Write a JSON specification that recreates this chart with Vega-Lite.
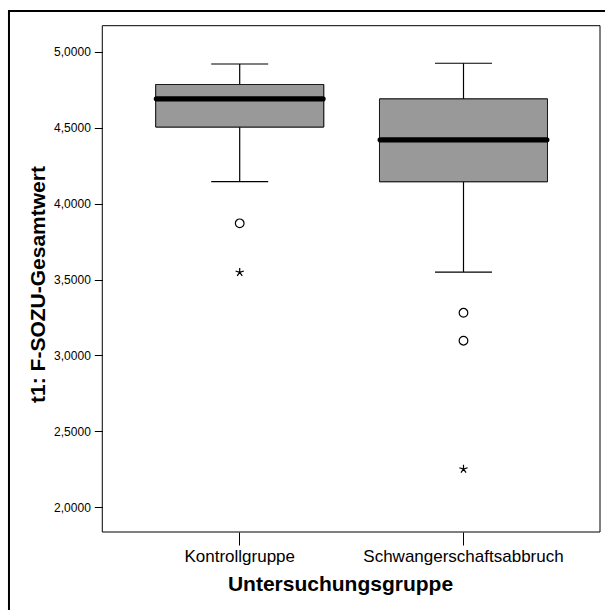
{
  "$schema": "https://vega.github.io/schema/vega-lite/v6.json",
  "autosize": {"type": "none"},
  "padding": {"left": 9, "top": 11, "right": 0, "bottom": 0},
  "width": 596,
  "height": 599,
  "background": "white",
  "config": {"font": "Liberation Sans", "view": {"stroke": null}},
  "datasets": {
    "summary": [
      {"group": "Kontrollgruppe", "lower": 4.144, "q1": 4.504, "median": 4.689, "q3": 4.784, "upper": 4.919},
      {"group": "Schwangerschaftsabbruch", "lower": 3.549, "q1": 4.144, "median": 4.419, "q3": 4.689, "upper": 4.924}
    ],
    "outliers": [
      {"group": "Kontrollgruppe", "value": 3.870, "kind": "Ausreißer"},
      {"group": "Kontrollgruppe", "value": 3.547, "kind": "Extremwert"},
      {"group": "Schwangerschaftsabbruch", "value": 3.281, "kind": "Ausreißer"},
      {"group": "Schwangerschaftsabbruch", "value": 3.097, "kind": "Ausreißer"},
      {"group": "Schwangerschaftsabbruch", "value": 2.252, "kind": "Extremwert"}
    ],
    "frame": [{"name": "Rahmen"}]
  },
  "layer": [
    {
      "data": {"name": "summary"},
      "mark": {"type": "bar", "size": 168, "fill": "#999999", "stroke": "#1a1a1a", "strokeWidth": 1},
      "encoding": {
        "x": {
          "field": "group", "type": "nominal",
          "scale": {"domain": ["Kontrollgruppe", "Schwangerschaftsabbruch"], "paddingInner": 0, "paddingOuter": 0.3316, "align": 0.8005},
          "axis": {
            "orient": "bottom", "offset": -78, "domain": false, "grid": false, "labelAngle": 0,
            "tickSize": 13, "tickColor": "black", "tickWidth": 1,
            "labelFontSize": 17, "labelColor": "black", "labelPadding": 3, "labelLimit": 0,
            "title": "Untersuchungsgruppe", "titleFontSize": 21, "titleFontWeight": "bold", "titleColor": "black",
            "titlePadding": 9, "titleX": 331, "titleAlign": "center"
          }
        },
        "y": {
          "field": "q1", "type": "quantitative",
          "scale": {"domain": [1.3239, 5.268], "nice": false, "zero": false},
          "axis": {
            "orient": "left", "offset": -93.3, "domain": false, "grid": false,
            "values": [2, 2.5, 3, 3.5, 4, 4.5, 5],
            "labelExpr": "replace(format(datum.value, '.4f'), '.', ',')",
            "tickSize": 8, "tickColor": "black", "tickWidth": 1,
            "labelFontSize": 12, "labelColor": "black", "labelPadding": 4,
            "title": "t1: F-SOZU-Gesamtwert", "titleFontSize": 21, "titleFontWeight": "bold", "titleColor": "black",
            "titlePadding": 5, "titleY": 273, "titleAlign": "center"
          }
        },
        "y2": {"field": "q3"}
      }
    },
    {
      "data": {"name": "frame"},
      "mark": {"type": "rect", "filled": false, "stroke": "black", "strokeWidth": 2},
      "encoding": {
        "x": {"datum": "Kontrollgruppe", "type": "nominal", "bandPosition": -0.531},
        "x2": {"datum": "Schwangerschaftsabbruch", "bandPosition": 2},
        "y": {"datum": 5.268, "type": "quantitative"},
        "y2": {"datum": 1.0}
      }
    },
    {
      "data": {"name": "frame"},
      "mark": {"type": "rect", "filled": false, "stroke": "black", "strokeWidth": 1},
      "encoding": {
        "x": {"datum": "Kontrollgruppe", "type": "nominal", "bandPosition": -0.114},
        "x2": {"datum": "Schwangerschaftsabbruch", "bandPosition": 1.110},
        "y": {"datum": 5.1712, "type": "quantitative"},
        "y2": {"datum": 1.8374}
      }
    },
    {
      "data": {"name": "summary"},
      "mark": {"type": "rule", "color": "black", "strokeWidth": 1.2},
      "encoding": {
        "x": {"field": "group", "type": "nominal"},
        "y": {"field": "lower", "type": "quantitative"},
        "y2": {"field": "q1"}
      }
    },
    {
      "data": {"name": "summary"},
      "mark": {"type": "rule", "color": "black", "strokeWidth": 1.2},
      "encoding": {
        "x": {"field": "group", "type": "nominal"},
        "y": {"field": "q3", "type": "quantitative"},
        "y2": {"field": "upper"}
      }
    },
    {
      "data": {"name": "summary"},
      "mark": {"type": "bar", "size": 168, "fill": "#999999", "stroke": "#1a1a1a", "strokeWidth": 1},
      "encoding": {
        "x": {"field": "group", "type": "nominal"},
        "y": {"field": "q1", "type": "quantitative"},
        "y2": {"field": "q3"}
      }
    },
    {
      "data": {"name": "summary"},
      "mark": {"type": "tick", "size": 172, "thickness": 5.3, "color": "black", "cornerRadius": 2.6, "opacity": 1},
      "encoding": {
        "x": {"field": "group", "type": "nominal"},
        "y": {"field": "median", "type": "quantitative"}
      }
    },
    {
      "data": {"name": "summary"},
      "mark": {"type": "tick", "size": 57, "thickness": 1.2, "color": "black", "opacity": 1},
      "encoding": {
        "x": {"field": "group", "type": "nominal"},
        "y": {"field": "lower", "type": "quantitative"}
      }
    },
    {
      "data": {"name": "summary"},
      "mark": {"type": "tick", "size": 57, "thickness": 1.2, "color": "black", "opacity": 1},
      "encoding": {
        "x": {"field": "group", "type": "nominal"},
        "y": {"field": "upper", "type": "quantitative"}
      }
    },
    {
      "data": {"name": "outliers"},
      "mark": {"type": "point", "filled": false, "stroke": "black", "strokeWidth": 1.2, "size": 75, "opacity": 1},
      "encoding": {
        "x": {"field": "group", "type": "nominal"},
        "y": {"field": "value", "type": "quantitative"},
        "shape": {
          "field": "kind", "type": "nominal",
          "scale": {"domain": ["Ausreißer", "Extremwert"], "range": ["circle", "M0,-1L0,0M-0.951,-0.309L0,0L0.951,-0.309M-0.588,0.809L0,0L0.588,0.809"]},
          "legend": null
        }
      }
    }
  ]
}
